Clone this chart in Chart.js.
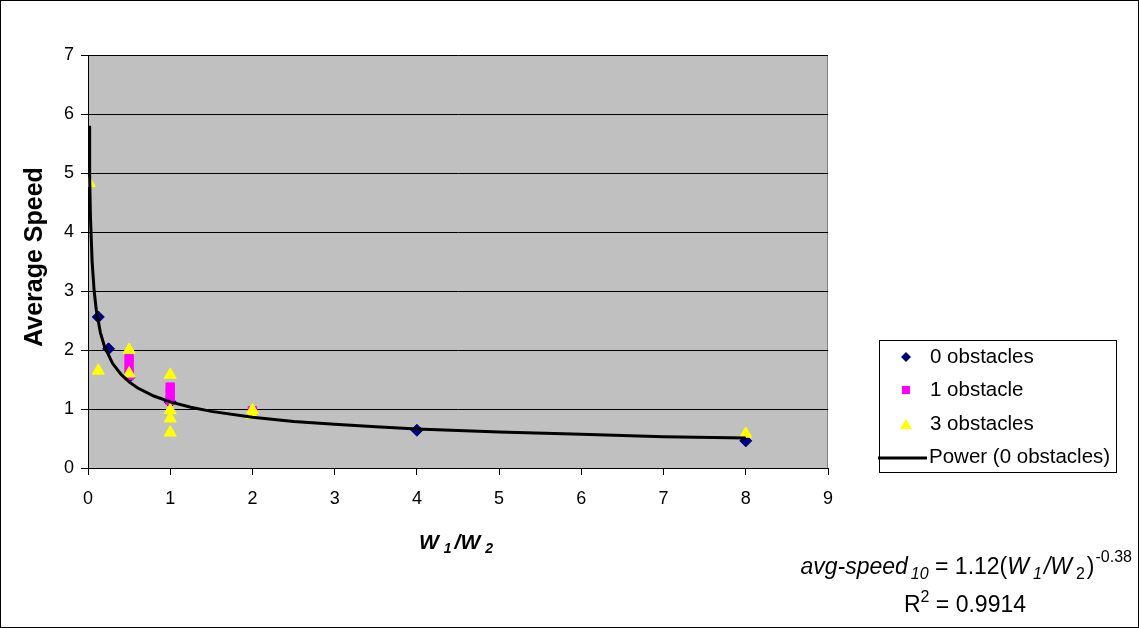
<!DOCTYPE html>
<html>
<head>
<meta charset="utf-8">
<script src="https://cdn.jsdelivr.net/npm/chart.js@4.4.1/dist/chart.umd.min.js"></script>
<style>
  html, body { margin: 0; padding: 0; background: #fff; }
  #wrap { width: 1139px; height: 628px; }
</style>
</head>
<body>
<div id="wrap"><canvas id="myChart" width="1139" height="628"></canvas></div>
<script>
// values
var zeroX = [0.125, 0.25, 0.5, 1, 4, 8];
var zeroY = [2.56, 2.02, 1.54, 1.12, 0.64, 0.46];

var oneX = [0.5, 0.5, 0.5, 1, 1, 1, 2];
var oneY = [1.85, 1.7, 1.57, 1.37, 1.26, 1.15, 0.97];

var threeX = [0.0156, 0.125, 0.5, 0.5, 1, 1, 1, 1, 2, 2, 8];
var threeY = [4.83, 1.65, 2.0, 1.6, 1.58, 0.98, 0.84, 0.6, 0.98, 0.9, 0.58];

// trend line points (Power (0 obstacles)) as seen on the chart
var powerX = [0.013, 0.02, 0.03, 0.05, 0.075, 0.1, 0.15, 0.2, 0.3, 0.4, 0.5, 0.6, 0.8, 1, 1.25, 1.5, 2, 2.5, 3, 3.5, 4, 5, 6, 7, 8];
var powerY = [5.8, 4.95, 4.25, 3.5, 3.0, 2.69, 2.3, 2.06, 1.77, 1.59, 1.46, 1.36, 1.22, 1.12, 1.03, 0.96, 0.86, 0.79, 0.74, 0.7, 0.66, 0.61, 0.57, 0.53, 0.51];

var seriesNames = ['0 obstacles', '1 obstacle', '3 obstacles', 'Power (0 obstacles)'];

function pts(xs, ys) {
    return xs.map(function (x, i) { return { x: x, y: ys[i] }; });
}

var FONT = '"Liberation Sans", Arial, sans-serif';

// draws text pieces one after another (for subscripts/superscripts)
function drawRuns(ctx, runs, x, y) {
    runs.forEach(function (r) {
        ctx.font = r.font;
        ctx.fillText(r.text, x, y + (r.dy || 0));
        x += ctx.measureText(r.text).width + (r.gap || 0);
    });
    return x;
}
function runsWidth(ctx, runs) {
    var w = 0;
    runs.forEach(function (r) {
        ctx.font = r.font;
        w += ctx.measureText(r.text).width + (r.gap || 0);
    });
    return w;
}

var decor = {
    id: 'decor',
    beforeDraw: function (chart) {
        var ctx = chart.ctx, a = chart.chartArea;
        ctx.save();
        ctx.fillStyle = '#fff';
        ctx.fillRect(0, 0, chart.width, chart.height);
        ctx.fillStyle = '#C0C0C0';
        ctx.fillRect(a.left, a.top, a.right - a.left, a.bottom - a.top);
        ctx.strokeStyle = '#808080';
        ctx.lineWidth = 1;
        ctx.strokeRect(a.left + 0.5, a.top + 0.5, a.right - a.left - 1, a.bottom - a.top);
        ctx.restore();
    },
    afterDraw: function (chart) {
        var ctx = chart.ctx;
        ctx.save();
        // outer frame
        ctx.strokeStyle = '#000';
        ctx.lineWidth = 1;
        ctx.strokeRect(0.5, 0.5, chart.width - 1, chart.height - 1);

        ctx.fillStyle = '#000';
        ctx.textBaseline = 'middle';

        // y title
        ctx.save();
        ctx.translate(35, 257);
        ctx.rotate(-Math.PI / 2);
        ctx.textAlign = 'center';
        ctx.font = 'bold 25px ' + FONT;
        ctx.fillText('Average Speed', 0, 0);
        ctx.restore();

        // x title W1/W2
        ctx.textAlign = 'left';
        var bi = 'italic bold 21px ' + FONT, bis = 'italic bold 14px ' + FONT;
        drawRuns(ctx, [
            { text: 'W', font: bi, gap: 5 },
            { text: '1', font: bis, dy: 6, gap: 3 },
            { text: '/', font: bi },
            { text: 'W', font: bi, gap: 5 },
            { text: '2', font: bis, dy: 6 }
        ], 419, 543);

        // equation
        var it = 'italic 23px ' + FONT, no = '23px ' + FONT, sm = 'italic 16px ' + FONT, smn = '16px ' + FONT;
        var eq = [
            { text: 'avg-speed', font: it, gap: 3 },
            { text: '10', font: sm, dy: 7 },
            { text: ' = 1.12(', font: no },
            { text: 'W', font: it, gap: 4 },
            { text: '1', font: sm, dy: 7, gap: 2 },
            { text: '/', font: it },
            { text: 'W', font: it, gap: 4 },
            { text: '2', font: smn, dy: 7, gap: 2 },
            { text: ')', font: no, gap: 1 },
            { text: '-0.38', font: smn, dy: -10 }
        ];
        var ex = 1132 - runsWidth(ctx, eq);
        drawRuns(ctx, eq, ex, 568);
        var r2 = [
            { text: 'R', font: no },
            { text: '2', font: smn, dy: -8 },
            { text: ' = 0.9914', font: no }
        ];
        drawRuns(ctx, r2, 965 - runsWidth(ctx, r2) / 2, 606);

        // legend box
        ctx.strokeStyle = '#000';
        ctx.strokeRect(879.5, 340.5, 237, 132);
        var ly = [357, 390, 424, 457];
        ctx.font = '20.5px ' + FONT;
        seriesNames.forEach(function (n, i) {
            ctx.fillStyle = '#000';
            ctx.fillText(n, i === 3 ? 929 : 930, ly[i]);
        });
        var mx = 906;
        ctx.fillStyle = '#000080';
        ctx.beginPath();
        ctx.moveTo(mx, ly[0] - 5); ctx.lineTo(mx + 5, ly[0]); ctx.lineTo(mx, ly[0] + 5); ctx.lineTo(mx - 5, ly[0]);
        ctx.closePath(); ctx.fill();
        ctx.fillStyle = '#FF00FF';
        ctx.fillRect(mx - 4, ly[1] - 4, 8, 8);
        ctx.fillStyle = '#FFFF00';
        ctx.beginPath();
        ctx.moveTo(mx, ly[2] - 5); ctx.lineTo(mx + 6, ly[2] + 5); ctx.lineTo(mx - 6, ly[2] + 5);
        ctx.closePath(); ctx.fill();
        ctx.strokeStyle = '#000';
        ctx.lineWidth = 3;
        ctx.beginPath();
        ctx.moveTo(878, ly[3] + 1); ctx.lineTo(927, ly[3] + 1);
        ctx.stroke();
        ctx.restore();
    }
};

var ctx = document.getElementById('myChart').getContext('2d');
var myChart = new Chart(ctx, {
    type: 'scatter',
    data: {
        datasets: [{
            label: seriesNames[3],
            data: pts(powerX, powerY),
            showLine: true,
            borderColor: '#000',
            borderWidth: 3,
            pointRadius: 0,
            tension: 0,
            order: 0
        }, {
            label: seriesNames[2],
            data: pts(threeX, threeY),
            pointStyle: 'triangle',
            pointRadius: 7,
            backgroundColor: '#FFFF00',
            borderColor: '#FFFF00',
            order: 1
        }, {
            label: seriesNames[1],
            data: pts(oneX, oneY),
            pointStyle: 'rect',
            pointRadius: 6,
            backgroundColor: '#FF00FF',
            borderColor: '#FF00FF',
            order: 2
        }, {
            label: seriesNames[0],
            data: pts(zeroX, zeroY),
            pointStyle: 'rectRot',
            pointRadius: 6,
            backgroundColor: '#000080',
            borderColor: '#000080',
            order: 3
        }]
    },
    options: {
        responsive: false,
        animation: false,
        layout: { padding: { top: 55, right: 311, bottom: 0, left: 0 } },
        plugins: {
            legend: { display: false },
            tooltip: { enabled: false }
        },
        scales: {
            x: {
                type: 'linear',
                min: 0, max: 9,
                ticks: { stepSize: 1, color: '#000', font: { family: FONT, size: 18 }, padding: 13 },
                grid: { drawOnChartArea: false, color: '#000', tickLength: 7 },
                border: { color: '#000', width: 1 },
                afterFit: function (s) { s.height = 160; }
            },
            y: {
                min: 0, max: 7,
                ticks: { stepSize: 1, color: '#000', font: { family: FONT, size: 18 }, padding: 7 },
                grid: { color: '#000', tickLength: 7 },
                border: { color: '#000', width: 1 },
                afterFit: function (s) { s.width = 88; }
            }
        }
    },
    plugins: [decor]
});
</script>
</body>
</html>
